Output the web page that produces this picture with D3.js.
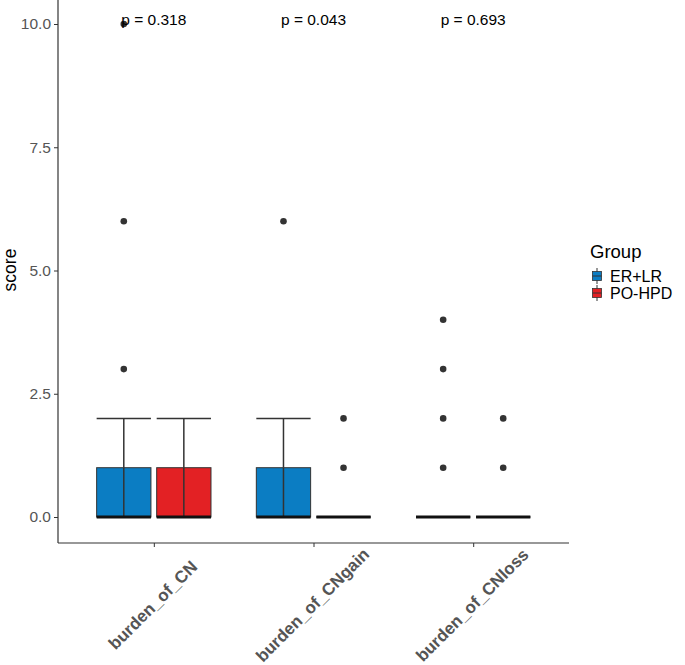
<!DOCTYPE html>
<html><head><meta charset="utf-8">
<script src="https://cdn.jsdelivr.net/npm/d3@7"></script>
<style>body{margin:0;background:#fff}</style>
</head><body>
<script>
const categories = ["burden_of_CN", "burden_of_CNgain", "burden_of_CNloss"];
const groups = ["ER+LR", "PO-HPD"];
const groupColors = ["#0B7DC3", "#E32124"];
// per category, per group: [whiskerLow, q1, median, q3, whiskerHigh]
const boxStats = [
  [[0, 0, 0, 1, 2], [0, 0, 0, 1, 2]],
  [[0, 0, 0, 1, 2], [0, 0, 0, 0, 0]],
  [[0, 0, 0, 0, 0], [0, 0, 0, 0, 0]]
];
const outliers = [
  [[3, 6, 10], []],
  [[6], [1, 2]],
  [[1, 2, 3, 4], [1, 2]]
];
const pValues = ["p = 0.318", "p = 0.043", "p = 0.693"];
const yTicks = [0, 2.5, 5, 7.5, 10];

const W = 685, H = 665;
const m = {left: 58, right: 569, top: 24, bottom: 543};
const svg = d3.select("body").append("svg").attr("width", W).attr("height", H)
  .style("font-family", "Liberation Sans, Arial, sans-serif");

// discrete x in unit space with ggplot-like 0.6 expansion
const xu = d3.scaleLinear().domain([0.4, 3.6]).range([m.left, m.right]);
const x = d3.scalePoint().domain(categories).range([xu(1), xu(3)]);
const dodge = 0.188, boxW = 0.34;
const y = d3.scaleLinear().domain([0, 10]).range([517, 24]);

// y axis
const ya = svg.append("g").attr("transform", `translate(${m.left},0)`)
  .call(d3.axisLeft(y).tickValues(yTicks).tickFormat(d3.format(".1f")).tickSizeOuter(0).tickSize(4).tickPadding(3));
ya.select(".domain").attr("stroke", "#333").attr("stroke-width", 1.2).attr("d", `M0,${m.bottom}V0`);
ya.selectAll(".tick line").attr("stroke", "#333");
ya.selectAll("text").attr("fill", "#555").attr("font-size", 15.5);

// x axis
const xa = svg.append("g").attr("transform", `translate(0,${m.bottom})`)
  .call(d3.axisBottom(x).tickSizeOuter(0).tickSize(4));
xa.select(".domain").attr("stroke", "#333").attr("stroke-width", 1.2).attr("d", `M${m.left},0H${m.right}`);
xa.selectAll(".tick line").attr("stroke", "#333");
xa.selectAll("text").remove();
categories.forEach(c => {
  svg.append("text").attr("transform", `translate(${x(c)},${606}) rotate(-45)`)
    .attr("text-anchor", "middle").attr("dominant-baseline", "middle")
    .attr("font-weight", "bold").attr("font-size", 17).attr("fill", "#555").text(c);
});

// y label
svg.append("text").attr("transform", `translate(16,270) rotate(-90)`)
  .attr("text-anchor", "middle").attr("font-size", 17.5).attr("fill", "#000").text("score");

// boxes
const bw = xu(boxW) - xu(0);
categories.forEach((c, ci) => {
  groups.forEach((g, gi) => {
    const s = boxStats[ci][gi];
    const cx = x(c) + (gi === 0 ? -1 : 1) * (xu(dodge) - xu(0));
    const gEl = svg.append("g");
    gEl.append("line").attr("x1", cx - bw / 2).attr("x2", cx + bw / 2).attr("y1", y(s[4])).attr("y2", y(s[4]))
      .attr("stroke", "#333").attr("stroke-width", 1.5);
    gEl.append("line").attr("x1", cx).attr("x2", cx).attr("y1", y(s[4])).attr("y2", y(s[3]))
      .attr("stroke", "#333").attr("stroke-width", 1.5);
    gEl.append("rect").attr("x", cx - bw / 2).attr("width", bw).attr("y", y(s[3])).attr("height", y(s[1]) - y(s[3]))
      .attr("fill", groupColors[gi]).attr("stroke", "#333").attr("stroke-width", 1);
    gEl.append("line").attr("x1", cx).attr("x2", cx).attr("y1", y(s[3])).attr("y2", y(s[0]))
      .attr("stroke", "#333").attr("stroke-width", 1.5);
    gEl.append("line").attr("x1", cx - bw / 2).attr("x2", cx + bw / 2).attr("y1", y(s[2])).attr("y2", y(s[2]))
      .attr("stroke", "#111").attr("stroke-width", 2.8);
    outliers[ci][gi].forEach(v => {
      gEl.append("circle").attr("cx", cx).attr("cy", y(v)).attr("r", 3.3).attr("fill", "#333");
    });
  });
  svg.append("text").attr("x", x(c)).attr("y", 25)
    .attr("text-anchor", "middle").attr("font-size", 15.5).attr("fill", "#000").text(pValues[ci]);
});

// legend
const lg = svg.append("g");
lg.append("text").attr("x", 590).attr("y", 258).attr("font-size", 18.5).attr("fill", "#000").text("Group");
groups.forEach((g, i) => {
  const ky = 268 + i * 17;
  const kx = 592;
  lg.append("line").attr("x1", kx + 5).attr("x2", kx + 5).attr("y1", ky).attr("y2", ky + 16).attr("stroke", "#333").attr("stroke-width", 1);
  lg.append("rect").attr("x", kx + 0.5).attr("y", ky + 3.5).attr("width", 9).attr("height", 9)
    .attr("fill", groupColors[i]).attr("stroke", "#333").attr("stroke-width", 0.8);
  lg.append("line").attr("x1", kx + 0.5).attr("x2", kx + 9.5).attr("y1", ky + 8).attr("y2", ky + 8).attr("stroke", "#333").attr("stroke-width", 1);
  lg.append("text").attr("x", 610).attr("y", ky + 13.5).attr("font-size", 16).attr("fill", "#000").text(g);
});
</script>
</body></html>
